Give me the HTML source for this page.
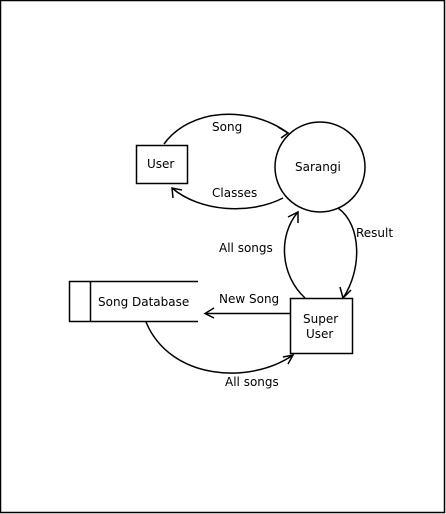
<!DOCTYPE html>
<html><head><style>
html,body{margin:0;padding:0;background:#fff;}
svg{display:block;}
text{font-family:"DejaVu Sans","Liberation Sans",sans-serif;font-size:12px;fill:#000;}
</style></head><body>
<svg width="446" height="514" viewBox="0 0 446 514">
<rect x="0.5" y="0.5" width="444" height="512" fill="#fff" stroke="#000" stroke-width="1.5"/>
<g fill="none" stroke="#000" stroke-width="1.5">
<rect x="136.5" y="145.5" width="51" height="38"/>
<circle cx="320" cy="167" r="45"/>
<line x1="69" y1="281.5" x2="198" y2="281.5"/>
<line x1="69" y1="321.5" x2="198" y2="321.5"/>
<line x1="69.5" y1="281" x2="69.5" y2="322"/>
<line x1="90.5" y1="281" x2="90.5" y2="322"/>
<rect x="290.5" y="298.5" width="62" height="55"/>
<path d="M164 144 C190 108 250 105 288 133"/>
<path d="M278 127 L288 133 L281 138"/>
<path d="M283 198 C250 215 200 212 172 188"/>
<path d="M173 198 L172 188 L182 190"/>
<path d="M305 298 C280 275 278 235 298 212"/>
<path d="M288 217 L298 212 L298 223"/>
<path d="M338 208 C362 225 362 270 343 298"/>
<path d="M340 287 L343 298 L351 290"/>
<line x1="290" y1="313.5" x2="205" y2="313.5"/>
<path d="M214 308 L205 313.5 L214 318"/>
<path d="M146 322 C170 380 250 385 293 355"/>
<path d="M283 357 L293 355 L288 364"/>
</g>
<text x="147" y="168">User</text>
<text x="295" y="171">Sarangi</text>
<text x="98" y="306">Song Database</text>
<text x="303" y="323">Super</text>
<text x="306" y="338">User</text>
<text x="212" y="131">Song</text>
<text x="212" y="197">Classes</text>
<text x="219" y="252">All songs</text>
<text x="356" y="237">Result</text>
<text x="219" y="303">New Song</text>
<text x="225" y="386">All songs</text>
</svg>
</body></html>
